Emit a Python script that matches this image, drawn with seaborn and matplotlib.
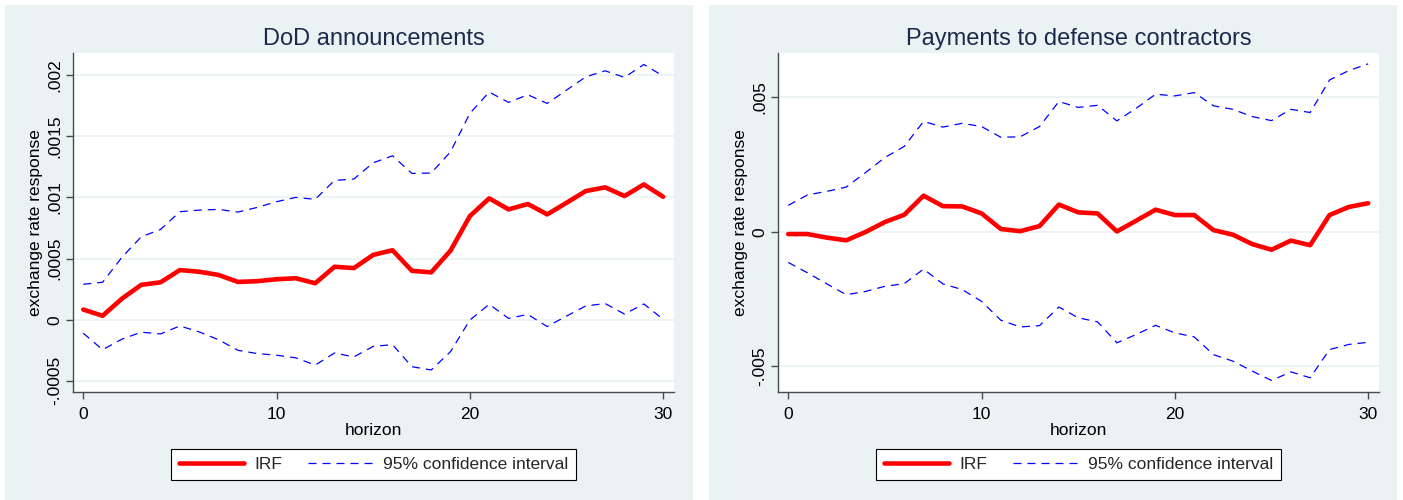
import matplotlib
matplotlib.use("Agg")
import matplotlib.pyplot as plt
from matplotlib.patches import Rectangle
from matplotlib.lines import Line2D
import seaborn as sns
import pandas as pd

# ---------------- data ----------------
horizon = list(range(31))

dod_irf = [0.000083, 0.000032, 0.000172, 0.000285, 0.000306, 0.000406, 0.000392, 0.000366,
           0.000309, 0.000315, 0.000331, 0.000339, 0.000298, 0.000433, 0.000422, 0.00053,
           0.000568, 0.0004, 0.000387, 0.000565, 0.000847, 0.000992, 0.000902, 0.000946,
           0.000861, 0.000956, 0.001052, 0.001082, 0.001011, 0.001106, 0.001005]
dod_upper = [0.00029, 0.000306, 0.00051, 0.000678, 0.000738, 0.000883, 0.000896, 0.000902,
             0.00088, 0.000918, 0.000965, 0.001, 0.000984, 0.001139, 0.00115, 0.001283,
             0.00134, 0.001196, 0.001199, 0.001373, 0.001687, 0.001861, 0.001777, 0.001839,
             0.001768, 0.001877, 0.001986, 0.002035, 0.001981, 0.002087, 0.001992]
dod_lower = [-0.00011, -0.000245, -0.000159, -0.000102, -0.000116, -0.000051, -0.0001, -0.000164,
             -0.00025, -0.000277, -0.00029, -0.000312, -0.000371, -0.000272, -0.000304, -0.000218,
             -0.000204, -0.000384, -0.000411, -0.000261, -0.000003, 0.000126, 0.000011, 0.000043,
             -0.000056, 0.00003, 0.000113, 0.000132, 0.000046, 0.000129, 0.000003]

pay_irf = [-0.000087, -0.000087, -0.00022, -0.00032, -0.00001, 0.00036, 0.00063, 0.00134,
           0.00095, 0.00094, 0.00068, 0.0001, 0.00002, 0.00021, 0.00101, 0.00072,
           0.00068, 0.00001, 0.00041, 0.00082, 0.00062, 0.00062, 0.00006, -0.00011,
           -0.00046, -0.00067, -0.00033, -0.0005, 0.00062, 0.00092, 0.00106]
pay_upper = [0.00098, 0.00137, 0.0015, 0.00166, 0.0022, 0.00276, 0.00317, 0.0041,
             0.00389, 0.00403, 0.00391, 0.00351, 0.00353, 0.00391, 0.00484, 0.00462,
             0.0047, 0.00412, 0.00459, 0.00511, 0.00505, 0.00517, 0.00468, 0.00455,
             0.00428, 0.00413, 0.00455, 0.00443, 0.00564, 0.00599, 0.00624]
pay_lower = [-0.00114, -0.00153, -0.00194, -0.00234, -0.00222, -0.00203, -0.00193, -0.00139,
             -0.00194, -0.00215, -0.00259, -0.00329, -0.00354, -0.00349, -0.0028, -0.0032,
             -0.00335, -0.00413, -0.00382, -0.00348, -0.00376, -0.00391, -0.00457, -0.00481,
             -0.00518, -0.00553, -0.00521, -0.00543, -0.00438, -0.00419, -0.00411]

titles = ["DoD announcements", "Payments to defense contractors"]
x_ticks = [0, 10, 20, 30]
dod_yticks = [-0.0005, 0, 0.0005, 0.001, 0.0015, 0.002]
dod_yticklabels = ["-.0005", "0", ".0005", ".001", ".0015", ".002"]
pay_yticks = [-0.005, 0, 0.005]
pay_yticklabels = ["-.005", "0", ".005"]
legend_labels = ["IRF", "95% confidence interval"]
xlabel = "horizon"
ylabel = "exchange rate response"

# ---------------- style ----------------
sns.set_style("ticks")
plt.rcParams['font.family'] = ['Liberation Sans', 'DejaVu Sans']

W, H = 1403, 500
fig = plt.figure(figsize=(W / 100, H / 100), dpi=100)
fig.patch.set_facecolor("white")

BG = "#EAF2F3"
AX_COL = "#4a4a4a"
TITLE_COL = "#1c2b4c"

# panel backgrounds (in pixel -> figure fraction)
for (x0, x1) in [(4.7, 692.7), (709.3, 1397.3)]:
    fig.patches.append(Rectangle((x0 / W, 0), (x1 - x0) / W, 1 - 4.7 / H,
                                 transform=fig.transFigure, facecolor=BG,
                                 edgecolor="none", zorder=-10))

panels = [
    dict(left=73, irf=dod_irf, up=dod_upper, lo=dod_lower, ylim=(-0.000591, 0.002183),
         yt=dod_yticks, ytl=dod_yticklabels, title=titles[0]),
    dict(left=778, irf=pay_irf, up=pay_upper, lo=pay_lower, ylim=(-0.005958, 0.006655),
         yt=pay_yticks, ytl=pay_yticklabels, title=titles[1]),
]

top_px, bot_px, w_px = 52.7, 392.0, 601.0
dash = (0, (6.4, 4.8))

for p in panels:
    ax = fig.add_axes([p["left"] / W, 1 - bot_px / H, w_px / W, (bot_px - top_px) / H])
    ax.set_facecolor("white")
    df = pd.DataFrame({"h": horizon, "irf": p["irf"], "up": p["up"], "lo": p["lo"]})

    # gridlines
    for t in p["yt"]:
        ax.axhline(t, color=BG, lw=1.2, zorder=0.5)

    sns.lineplot(data=df, x="h", y="irf", ax=ax, color="#ff0000", linewidth=3.3,
                 zorder=3, legend=False)
    sns.lineplot(data=df, x="h", y="up", ax=ax, color="#0000ff", linewidth=0.9,
                 linestyle=dash, zorder=2, legend=False)
    sns.lineplot(data=df, x="h", y="lo", ax=ax, color="#0000ff", linewidth=0.9,
                 linestyle=dash, zorder=2, legend=False)

    ax.set_xlim(-0.53, 30.56)
    ax.set_ylim(*p["ylim"])
    ax.set_xticks(x_ticks)
    ax.set_xticklabels([str(v) for v in x_ticks])
    ax.set_yticks(p["yt"])
    ax.set_yticklabels(p["ytl"], rotation=90, va="center")

    for s in ["top", "right"]:
        ax.spines[s].set_visible(False)
    for s in ["left", "bottom"]:
        ax.spines[s].set_color(AX_COL)
        ax.spines[s].set_linewidth(1.0)

    ax.tick_params(axis="x", length=5, width=1.0, color=AX_COL, pad=6.0,
                   labelsize=12.5, labelcolor="black")
    ax.tick_params(axis="y", length=5, width=1.0, color=AX_COL, pad=2.5,
                   labelsize=12.5, labelcolor="black")

    ax.set_xlabel(xlabel, fontsize=12.5, color="black")
    ax.set_ylabel(ylabel, fontsize=12.5, color="black")
    ax.xaxis.set_label_coords(0.5, -(423.3 - bot_px) / (bot_px - top_px))
    ax.yaxis.set_label_coords(-30.3 / w_px, 0.5)

    ax.set_title(p["title"], fontsize=17, color=TITLE_COL, pad=5.5)

    handles = [Line2D([], [], color="#ff0000", lw=3.3),
               Line2D([], [], color="#0000ff", lw=0.9, linestyle=dash)]
    leg = ax.legend(handles, legend_labels, loc="center", ncol=2,
                    bbox_to_anchor=(0.5, -(464.6 - bot_px) / (bot_px - top_px)),
                    fontsize=12.5, frameon=True, fancybox=False, shadow=False,
                    borderpad=0.46, handlelength=3.73, handletextpad=0.6,
                    columnspacing=1.5, framealpha=1)
    leg.get_frame().set_edgecolor("black")
    leg.get_frame().set_linewidth(0.8)
    leg.get_frame().set_facecolor("white")

fig.savefig("out.png", dpi=100, facecolor="white")
